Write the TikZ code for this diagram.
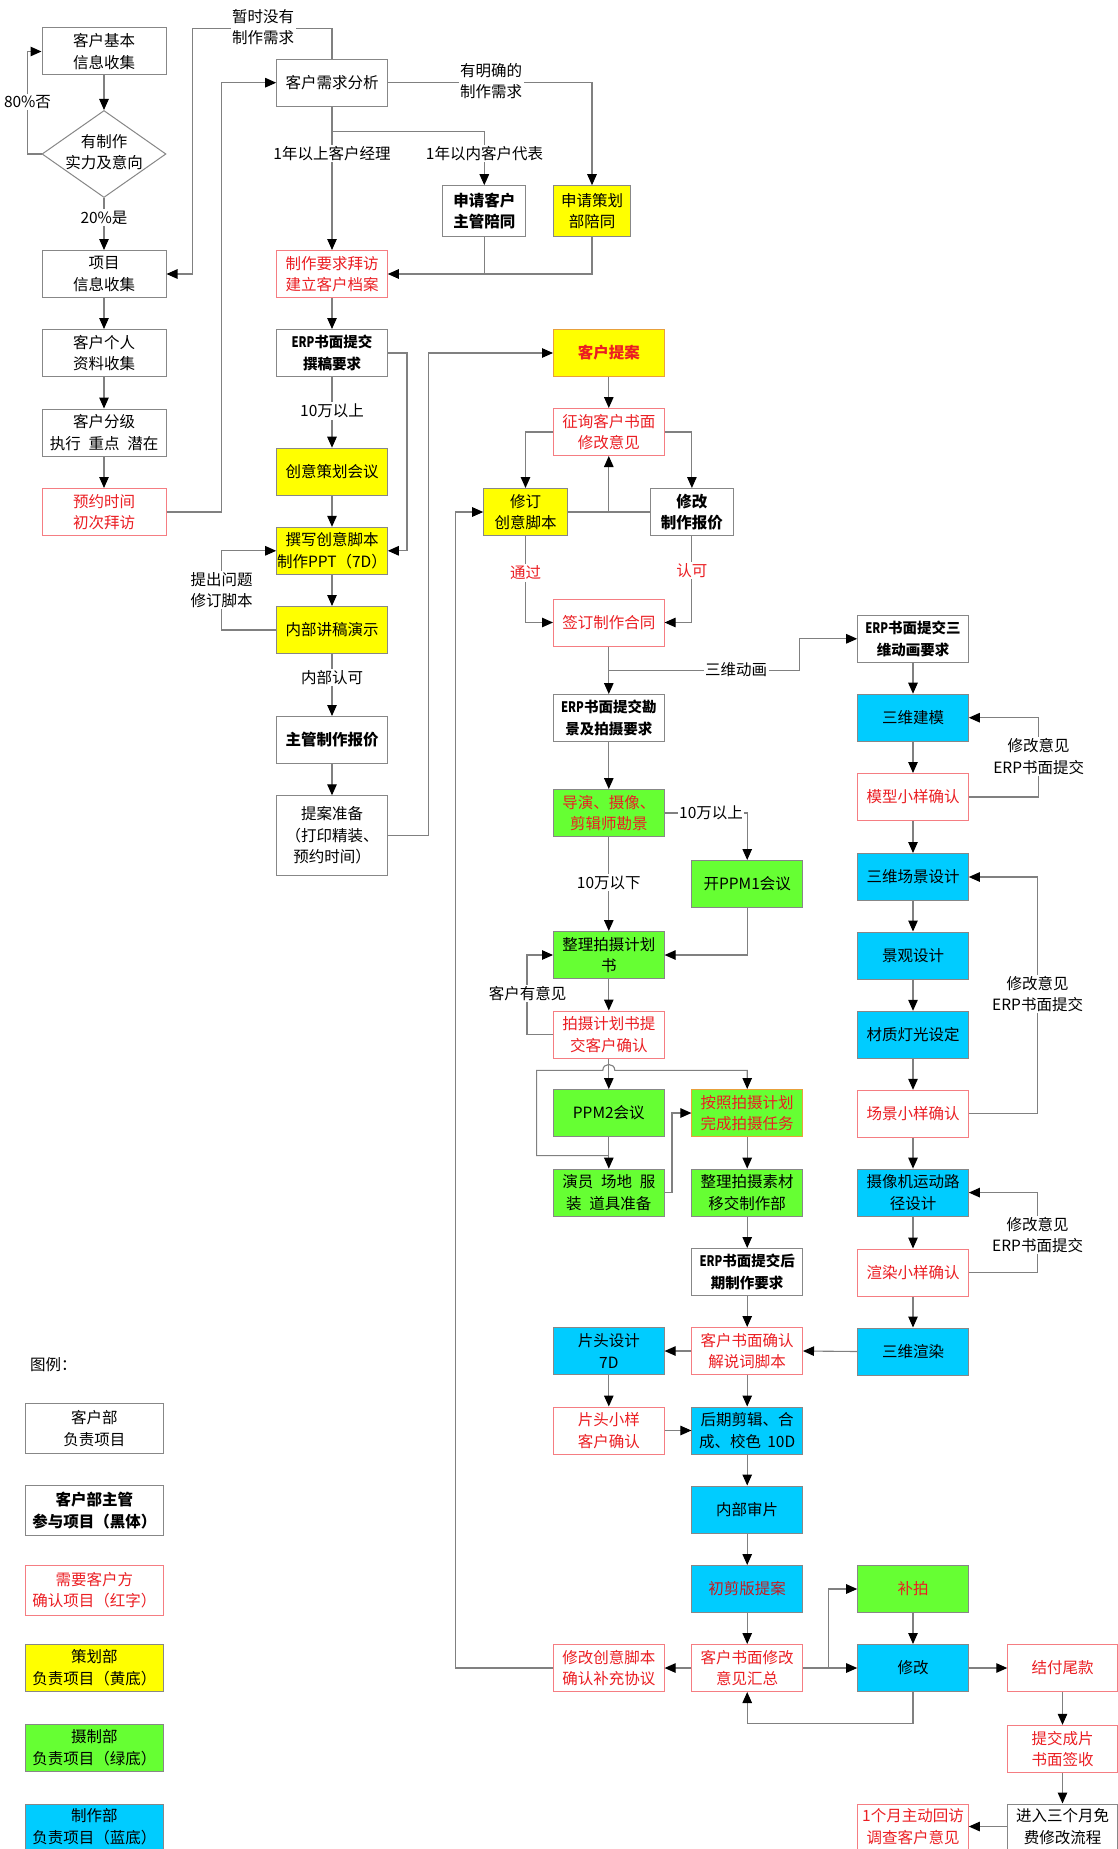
\documentclass[tikz,border=0pt]{standalone}
\usepackage{fontspec}
\usepackage{graphicx}
\setmainfont{Noto Sans CJK SC}
\usetikzlibrary{arrows.meta,shapes.geometric}
\definecolor{lg}{RGB}{128,128,128}
\definecolor{bd}{RGB}{135,135,135}
\definecolor{rt}{RGB}{235,30,35}
\definecolor{rb}{RGB}{245,125,130}
\definecolor{yf}{RGB}{255,255,0}
\definecolor{gf}{RGB}{102,255,51}
\definecolor{bf}{RGB}{0,204,255}
\definecolor{ob}{RGB}{232,160,60}
\newcommand\myerp{\scalebox{0.78}[1]{ERP}}
\begin{document}
\begin{tikzpicture}[x=1pt,y=-1pt,
 every node/.style={font=\fontsize{15.5}{21.5}\selectfont},
 bx/.style={draw=bd, line width=1pt, fill=white, align=center, inner sep=0pt, minimum width=110.6pt, minimum height=47pt},
 wb/.style={bx},
 hb/.style={bx, font=\fontsize{15.5}{21.5}\selectfont\bfseries},
 hbs/.style={bx, font=\fontsize{14.5}{21.5}\selectfont\bfseries},
 rbx/.style={bx, draw=rb, text=rt},
 yb/.style={bx, fill=yf},
 gb/.style={bx, fill=gf},
 bb/.style={bx, fill=bf},
 lab/.style={fill=white, inner sep=1.5pt, align=center},
 ln/.style={draw=lg, line width=1.1pt},
 ar/.style={ln, -{Triangle[length=11pt,width=9.5pt,color=black]}},
]
\useasboundingbox[fill=white] (0,0) rectangle (1118,1849);

% ---------- left column ----------
\node[wb, minimum width=124pt] (n1) at (104,51.5) {客户基本\\信息收集};
\node[diamond, draw=bd, line width=1pt, fill=white, inner sep=0pt, minimum width=124pt, minimum height=87pt] (d1) at (104,154) {};
\node[align=center, inner sep=0pt] (d1t) at (104,152) {有制作\\实力及意向};
\node[wb, minimum width=124pt] (n2) at (104,274) {项目\\信息收集};
\node[wb, minimum width=124pt] (n3) at (104,353) {客户个人\\资料收集};
\node[wb, minimum width=124pt] (n4) at (104,432.5) {客户分级\\执行\hspace{0.5em}重点\hspace{0.5em}潜在};
\node[rbx, minimum width=124pt] (n5) at (104,512) {预约时间\\初次拜访};

% ---------- main column ----------
\node[wb] (m1) at (332,82.7) {客户需求分析};
\node[rbx] (m2) at (332,274) {制作要求拜访\\建立客户档案};
\node[hbs] (m3) at (332,353) {\myerp 书面提交\\撰稿要求};
\node[yb] (m4) at (332,471.7) {创意策划会议};
\node[yb] (m5) at (332,550.8) {撰写创意脚本\\制作PPT（7D）};
\node[yb] (m6) at (332,630) {内部讲稿演示};
\node[hb] (m7) at (332,740) {主管制作报价};
\node[wb, minimum height=79.6pt] (m8) at (332,835.6) {提案准备\\（打印精装、\\预约时间）};

\node[hb, minimum width=83.2pt, minimum height=50.6pt] (s1) at (484.3,211) {申请客户\\主管陪同};
\node[yb, minimum width=77.7pt, minimum height=50.6pt] (s2) at (592,211) {申请策划\\部陪同};

% ---------- column C ----------
\node[yb, draw=ob, text=rt, font=\fontsize{15.5}{21.5}\selectfont\bfseries] (c1) at (608.8,353) {客户提案};
\node[rbx] (c2) at (608.8,432) {征询客户书面\\修改意见};
\node[yb, minimum width=83.6pt] (rev) at (525.5,512) {修订\\创意脚本};
\node[hb, minimum width=82.5pt] (quo) at (691.9,512) {修改\\制作报价};
\node[rbx] (c3) at (608.8,622.5) {签订制作合同};
\node[hbs] (c4) at (608.8,718) {\myerp 书面提交勘\\景及拍摄要求};
\node[gb, text=rt] (c5) at (608.8,813) {导演、摄像、\\剪辑师勘景};
\node[gb] (c6) at (608.8,955) {整理拍摄计划\\书};
\node[rbx] (c7) at (608.8,1034.5) {拍摄计划书提\\交客户确认};
\node[gb] (c8) at (608.8,1113) {PPM2会议};
\node[gb] (c9) at (608.8,1192.6) {演员\hspace{0.5em}场地\hspace{0.5em}服\\装\hspace{0.5em}道具准备};
\node[bb] (ct) at (608.8,1351) {片头设计\\7D};
\node[rbx] (cts) at (608.8,1430.5) {片头小样\\客户确认};
\node[rbx] (cms) at (608.8,1668) {修改创意脚本\\确认补充协议};

% ---------- column D ----------
\node[gb] (ppm1) at (747.2,884) {开PPM1会议};
\node[gb, draw=ob, text=rt] (sh) at (747.2,1113) {按照拍摄计划\\完成拍摄任务};
\node[gb] (so) at (747.2,1192.6) {整理拍摄素材\\移交制作部};
\node[hbs] (de) at (747.2,1272) {\myerp 书面提交后\\期制作要求};
\node[rbx] (dc) at (747.2,1351) {客户书面确认\\解说词脚本};
\node[bb] (dp) at (747.2,1430.5) {后期剪辑、合\\成、校色\hspace{0.4em}10D};
\node[bb] (dr) at (747.2,1509.5) {内部审片};
\node[bb, text=rt!85!black] (df) at (747.2,1589) {初剪版提案};
\node[rbx] (ds) at (747.2,1668) {客户书面修改\\意见汇总};

% ---------- column E ----------
\node[hbs] (e1) at (913,638.8) {\myerp 书面提交三\\维动画要求};
\node[bb] (e2) at (913,717.7) {三维建模};
\node[rbx] (e3) at (913,797) {模型小样确认};
\node[bb] (e4) at (913,877) {三维场景设计};
\node[bb] (e5) at (913,955.5) {景观设计};
\node[bb] (e6) at (913,1034.8) {材质灯光设定};
\node[rbx] (e7) at (913,1113.8) {场景小样确认};
\node[bb] (e8) at (913,1192.6) {摄像机运动路\\径设计};
\node[rbx] (e9) at (913,1272.5) {渲染小样确认};
\node[bb] (e10) at (913,1351.5) {三维渲染};
\node[gb, text=rt] (e11) at (913,1589) {补拍};
\node[bb] (e12) at (913,1668) {修改};
\node[rbx, minimum height=45pt] (e13) at (913,1826.5) {1个月主动回访\\调查客户意见};

% ---------- column F ----------
\node[rbx, minimum width=109.5pt] (f1) at (1062.5,1668) {结付尾款};
\node[rbx, minimum width=109.5pt] (f2) at (1062.5,1748.8) {提交成片\\书面签收};
\node[wb, minimum width=109.5pt, minimum height=45pt] (f3) at (1062.5,1826.5) {进入三个月免\\费修改流程};

% ---------- legend ----------
\node[anchor=west, inner sep=0pt] (lgt) at (30,1365) {图例：};
\node[wb, minimum width=138.5pt, minimum height=50pt] (L1) at (94.3,1428.7) {客户部\\负责项目};
\node[hb, minimum width=138.5pt, minimum height=50pt] (L2) at (94.3,1510.6) {客户部主管\\参与项目（黑体）};
\node[rbx, minimum width=138.5pt, minimum height=50pt] (L3) at (94.3,1590) {需要客户方\\确认项目（红字）};
\node[yb, minimum width=138.5pt, minimum height=47pt] (L4) at (94.3,1667.6) {策划部\\负责项目（黄底）};
\node[gb, minimum width=138.5pt, minimum height=47pt] (L5) at (94.3,1747.8) {摄制部\\负责项目（绿底）};
\node[bb, minimum width=138.5pt, minimum height=45pt] (L6) at (94.3,1826.7) {制作部\\负责项目（蓝底）};

% ---------- connectors ----------
\coordinate (b1) at (332,131.3);
\coordinate (j1) at (608.8,512);
\coordinate (j2) at (608.8,670.2);
\coordinate (j3) at (608.8,1155.6);
\coordinate (j4) at (828.6,1668);

\draw[ar] (n1) -- (d1);
\draw[ar] (d1) -- (n2);
\draw[ar] (d1.west) -- (27.8,154) -- (27.8,51.5) -- (n1.west);
\draw[ar] (n2) -- (n3);
\draw[ar] (n3) -- (n4);
\draw[ar] (n4) -- (n5);
\draw[ar] (n5.east) -- (221.3,512) |- (m1.west);
\draw[ar] (m1.north) |- (192.8,28.5) |- (n2.east);
\draw[ar] (m1.east) -| (s2.north);
\draw[ar] (m1) -- (m2);
\draw[ar] (b1) -| (s1.north);
\draw[ln] (s1.south) -- (s1.south |- m2.east);
\draw[ar] (s2.south) |- (m2.east);
\draw[ar] (m2) -- (m3);
\draw[ar] (m3) -- (m4);
\draw[ar] (m3.east) -- (407,353) |- (m5.east);
\draw[ar] (m4) -- (m5);
\draw[ar] (m5) -- (m6);
\draw[ar] (m6.west) -- (221.5,630) |- (m5.west);
\draw[ar] (m6) -- (m7);
\draw[ar] (m7) -- (m8);
\draw[ar] (m8.east) -- (428.4,835.6) |- (c1.west);
\draw[ar] (c1) -- (c2);
\draw[ar] (c2.west) -| (rev.north);
\draw[ar] (c2.east) -| (quo.north);
\draw[ln] (rev.east) -- (quo.west);
\draw[ar] (j1) -- (c2.south);
\draw[ar] (rev.south) |- (c3.west);
\draw[ar] (quo.south) |- (c3.east);
\draw[ar] (cms.west) -- (455.9,1668) |- (rev.west);
\draw[ar] (c3) -- (c4);
\draw[ar] (j2) -- (799.9,670.2) |- (e1.west);
\draw[ar] (c4) -- (c5);
\draw[ar] (c5) -- (c6);
\draw[ar] (c5.east) -| (ppm1.north);
\draw[ar] (ppm1.south) |- (c6.east);
\draw[ar] (c6) -- (c7);
\draw[ar] (c7.west) -- (527,1034.5) |- (c6.west);
\draw[ar] (c7) -- (c8);
\draw[ar] (c8) -- (c9);
\draw[ar] (j3) -- (536.6,1155.6) -- (536.6,1070.4) -- (602.8,1070.4) .. controls (602.8,1062.5) and (614.8,1062.5) .. (614.8,1070.4) -| (sh.north);
\draw[ar] (c9.east) -- (672,1192.6) |- (sh.west);
\draw[ar] (sh) -- (so);
\draw[ar] (so) -- (de);
\draw[ar] (de) -- (dc);
\draw[ar] (e10.west) -- (dc.east);
\draw[ar] (dc.west) -- (ct.east);
\draw[ar] (ct) -- (cts);
\draw[ar] (cts.east) -- (dp.west);
\draw[ar] (dc) -- (dp);
\draw[ar] (dp) -- (dr);
\draw[ar] (dr) -- (df);
\draw[ar] (df) -- (ds);
\draw[ar] (ds.west) -- (cms.east);
\draw[ar] (ds.east) -- (e12.west);
\draw[ar] (j4) |- (e11.west);
\draw[ar] (e11) -- (e12);
\draw[ar] (e12.south) -- (913,1723.4) -| (ds.south);
\draw[ar] (e12.east) -- (f1.west);
\draw[ar] (f1) -- (f2);
\draw[ar] (f2) -- (f3);
\draw[ar] (f3.west) -- (e13.east);
\draw[ar] (e1) -- (e2);
\draw[ar] (e2) -- (e3);
\draw[ar] (e3.east) -- (1038.7,797) |- (e2.east);
\draw[ar] (e3) -- (e4);
\draw[ar] (e4) -- (e5);
\draw[ar] (e5) -- (e6);
\draw[ar] (e6) -- (e7);
\draw[ar] (e7) -- (e8);
\draw[ar] (e8) -- (e9);
\draw[ar] (e9) -- (e10);
\draw[ar] (e7.east) -- (1037.6,1113.8) |- (e4.east);
\draw[ar] (e9.east) -- (1037.6,1272.5) |- (e8.east);

% ---------- labels ----------
\node[lab] (t1) at (104,217.5) {20\%是};
\node[lab] (t2) at (27.5,102) {80\%否};
\node[lab] (t3) at (263,27) {暂时没有\\制作需求};
\node[lab] (t4) at (491,81) {有明确的\\制作需求};
\node[lab] (t5) at (332,153.4) {1年以上客户经理};
\node[lab] (t6) at (484.5,153.4) {1年以内客户代表};
\node[lab] (t7) at (332,411) {10万以上};
\node[lab] (t8) at (221.5,590) {提出问题\\修订脚本};
\node[lab] (t9) at (332,677.5) {内部认可};
\node[lab, text=rt] (t10) at (525.5,573) {通过};
\node[lab, text=rt] (t11) at (691.9,570.6) {认可};
\node[lab] (t12) at (736,669.5) {三维动画};
\node[lab] (t13) at (711,812.5) {10万以上};
\node[lab] (t14) at (608.8,882.7) {10万以下};
\node[lab] (t15) at (527.5,993.7) {客户有意见};
\node[lab] (t16) at (1038.7,756.5) {修改意见\\ERP书面提交};
\node[lab] (t17) at (1037.6,994) {修改意见\\ERP书面提交};
\node[lab] (t18) at (1037.6,1235) {修改意见\\ERP书面提交};
\end{tikzpicture}
\end{document}
